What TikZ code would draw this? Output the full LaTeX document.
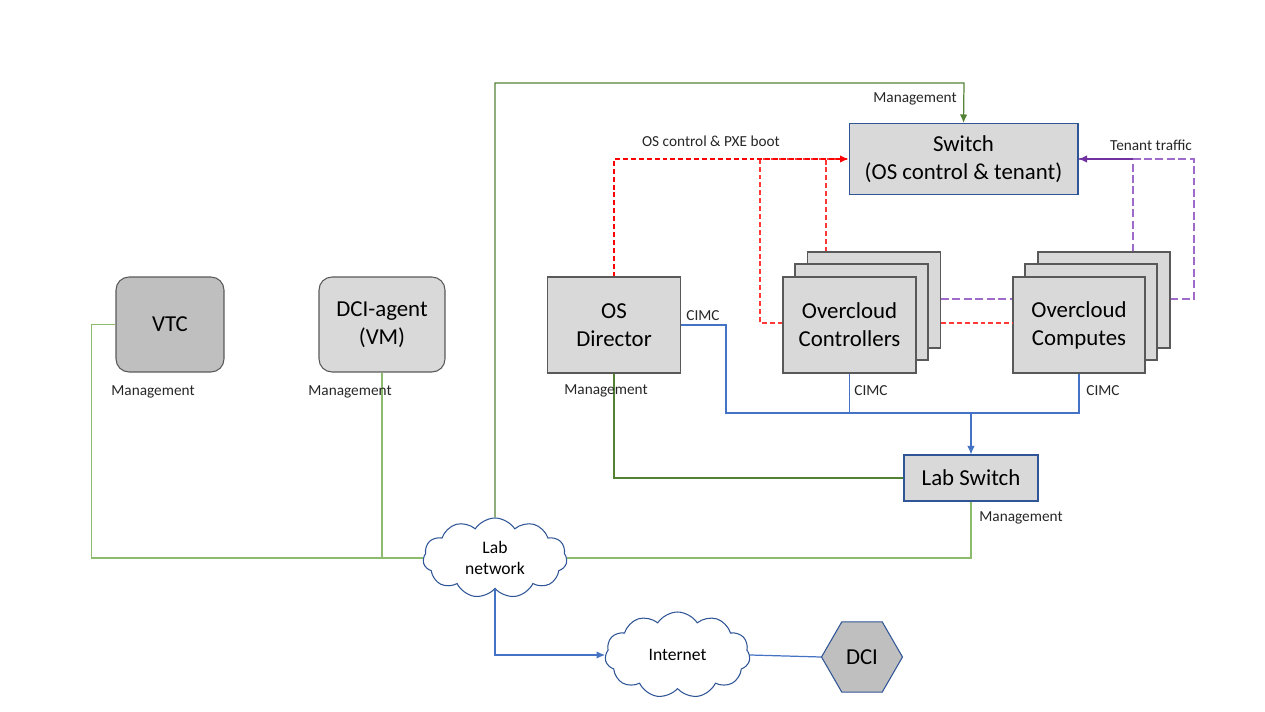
\documentclass[tikz,border=0pt]{standalone}
\usepackage{fontspec}
\setmainfont{Carlito}
\usetikzlibrary{arrows.meta,shapes.symbols,shapes.geometric}
\definecolor{boxfill}{HTML}{D9D9D9}
\definecolor{darkfill}{HTML}{BFBFBF}
\definecolor{boxline}{HTML}{595959}
\definecolor{blueline}{HTML}{2F5597}
\definecolor{cimcblue}{HTML}{4472C4}
\definecolor{greenA}{HTML}{548235}
\definecolor{greenB}{HTML}{8DBB6E}
\definecolor{redA}{HTML}{FF0000}
\definecolor{redB}{HTML}{FF3838}
\definecolor{purpA}{HTML}{7030A0}
\definecolor{purpB}{HTML}{9E6BCB}
\definecolor{labtext}{HTML}{262626}
\begin{document}
\begin{tikzpicture}[x=0.02cm,y=-0.02cm,
  big/.style={font=\fontsize{13}{16}\selectfont, align=center, text=black},
  box/.style={draw=boxline, fill=boxfill, line width=0.6pt, inner sep=0pt, big},
  bluebox/.style={draw=blueline, fill=boxfill, line width=0.6pt, inner sep=0pt, big},
  lbl/.style={font=\fontsize{8.7}{10}\selectfont, text=labtext, inner sep=1pt},
  cloudnode/.style={cloud, cloud puffs=11, cloud puff arc=115, aspect=1.8, draw=blueline, fill=white, line width=0.6pt, inner sep=0pt, font=\fontsize{10}{12}\selectfont, align=center},
  mgmtA/.style={draw=greenA, line width=0.7pt},
  mgmtB/.style={draw=greenB, line width=0.7pt},
  cimcl/.style={draw=cimcblue, line width=0.7pt},
  pxeA/.style={draw=redA, line width=0.75pt, dash pattern=on 2.8pt off 1.7pt},
  pxeB/.style={draw=redB, line width=0.75pt, dash pattern=on 2.8pt off 1.7pt},
  tenA/.style={draw=purpB, line width=0.75pt, dash pattern=on 4.5pt off 2pt},
  arr/.style={-{Latex[length=0.17cm,width=0.15cm]}}
]
\useasboundingbox (0,0) rectangle (1265,712);

% nodes
\node[box, fill=darkfill, rounded corners=0.26cm, minimum width=2.16cm, minimum height=1.9cm] (vtc) at (170,324.5) {VTC};
\node[box, rounded corners=0.26cm, minimum width=2.52cm, minimum height=1.9cm] (dcia) at (382,324.5) {DCI-agent\\(VM)};
\node[box, minimum width=2.66cm, minimum height=1.92cm] (osd) at (614,325) {OS\\Director};

\node[box, minimum width=2.66cm, minimum height=1.92cm] (ctrlb) at (874,300) {};
\node[box, minimum width=2.66cm, minimum height=1.92cm] (ctrlm) at (861.5,312) {};
\node[box, minimum width=2.66cm, minimum height=1.92cm] (ctrlf) at (849.5,325) {Overcloud\\Controllers};

\node[box, minimum width=2.64cm, minimum height=1.92cm] (compb) at (1104,300) {};
\node[box, minimum width=2.64cm, minimum height=1.92cm] (compm) at (1091,312) {};
\node[box, minimum width=2.64cm, minimum height=1.92cm] (compf) at (1079,325) {Overcloud\\Computes};

\node[bluebox, minimum width=4.58cm, minimum height=1.42cm] (switch) at (963.5,159) {Switch\\(OS control \& tenant)};
\node[bluebox, minimum width=2.68cm, minimum height=0.92cm] (labsw) at (971,478) {Lab Switch};

\node[cloudnode, minimum width=2.88cm, minimum height=1.6cm] (labnet) at (495,558) {Lab\\network};
\node[cloudnode, minimum width=2.9cm, minimum height=1.72cm] (inet) at (677.5,655) {Internet};
\node[regular polygon, regular polygon sides=6, draw=blueline, fill=darkfill, line width=0.6pt, minimum size=1.62cm, inner sep=0pt, font=\fontsize{13}{16}\selectfont] (dci) at (862,657) {DCI};

% helper coordinates
\coordinate (mtop) at (964,83);
\coordinate (cimcj) at (971,413);
\coordinate (r1) at (826,159);
\coordinate (r2) at (760,323);
\coordinate (ry) at (0,323);
\coordinate (py) at (0,299);
\coordinate (t1) at (1133,0);
\coordinate (t2) at (1194,299);

% management (green)
\draw[mgmtB] (vtc.west) -- ++(-24,0) |- (labnet.west);
\draw[mgmtB] (dcia.south) -- (dcia.south |- labnet.west);
\draw[mgmtB] (labsw.south) |- (labnet.east);
\draw[mgmtA, arr] (labnet.north) |- (mtop) -- (switch.north);
\draw[mgmtA] (osd.south) |- (labsw.west);

% CIMC (blue)
\draw[cimcl] (osd.east) -- ++(45,0) |- (cimcj);
\draw[cimcl, arr] (cimcj) -- (labsw.north);
\draw[cimcl] (ctrlf.south) -- (ctrlf.south |- cimcj);
\draw[cimcl] (compf.south) |- (cimcj);
\draw[cimcl, arr] (labnet.south) |- (inet.west);
\draw[cimcl] (inet.east) -- (dci.west);

% OS control & PXE boot (red dashed)
\draw[pxeB] (ctrlf.west |- ry) -- (r2) |- (switch.west);
\draw[pxeB] (ctrlb.north -| r1) -- (r1);
\draw[pxeB] (ctrlb.east |- ry) -- (compf.west |- ry);
\draw[pxeA, arr] (osd.north) |- (switch.west);

% tenant traffic (purple dashed)
\draw[tenA] (ctrlb.east |- py) -- (compf.west |- py);
\draw[tenA] (compb.north -| t1) |- (switch.east);
\draw[tenA] (compb.east |- py) -- (t2) |- (switch.east);
\draw[draw=purpA, line width=0.7pt, arr] (t1 |- switch.east) -- (switch.east);

% labels
\node[lbl] (l1) at (153,392) {Management};
\node[lbl] (l2) at (350,392) {Management};
\node[lbl] (l3) at (606,391) {Management};
\node[lbl] (l4) at (1021,518) {Management};
\node[lbl] (l5) at (915,99) {Management};
\node[lbl] (l6) at (703,316) {CIMC};
\node[lbl] (l7) at (871,391) {CIMC};
\node[lbl] (l8) at (1103,391) {CIMC};
\node[lbl] (l9) at (711,141) {OS control \& PXE boot};
\node[lbl] (l10) at (1151,145) {Tenant traffic};
\end{tikzpicture}
\end{document}
